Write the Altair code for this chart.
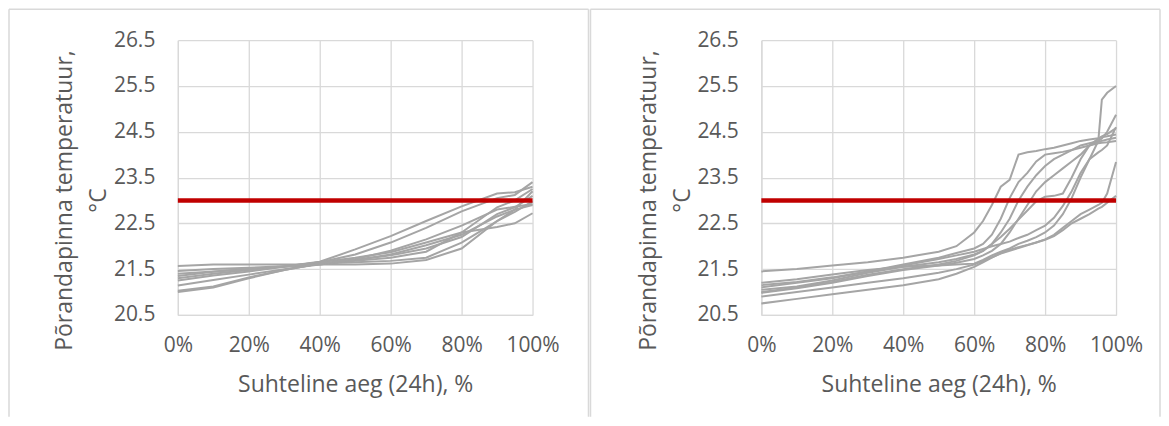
import altair as alt
import pandas as pd

# ---------------- data ----------------
Y_TICKS = [20.5, 21.5, 22.5, 23.5, 24.5, 25.5, 26.5]
X_TICKS = [0, 0.2, 0.4, 0.6, 0.8, 1.0]
THRESHOLD = 23.0

# left panel, relative time in %
LX = [0, 10, 20, 30, 40, 50, 60, 70, 80, 90, 95, 100]
L1 = [21.30, 21.40, 21.48, 21.56, 21.66, 21.93, 22.22, 22.55, 22.87, 23.15, 23.18, 23.30]
L2 = [21.40, 21.45, 21.50, 21.56, 21.65, 21.82, 22.08, 22.40, 22.76, 23.05, 23.12, 23.40]
L3 = [21.57, 21.60, 21.60, 21.60, 21.60, 21.60, 21.62, 21.70, 21.95, 22.55, 22.80, 23.20]
L4 = [21.00, 21.10, 21.30, 21.48, 21.62, 21.65, 21.68, 21.75, 22.08, 22.55, 22.75, 22.98]
L5 = [21.25, 21.36, 21.45, 21.55, 21.65, 21.75, 21.87, 22.08, 22.30, 22.42, 22.50, 22.72]
L6 = [21.35, 21.44, 21.50, 21.55, 21.60, 21.70, 21.82, 22.02, 22.25, 22.65, 22.80, 22.90]
L7 = [21.14, 21.26, 21.38, 21.50, 21.60, 21.70, 21.80, 21.95, 22.20, 22.70, 22.85, 23.10]
L8 = [21.03, 21.12, 21.32, 21.48, 21.62, 21.68, 21.75, 21.88, 22.30, 22.85, 23.00, 23.25]
L9 = [21.46, 21.50, 21.53, 21.56, 21.62, 21.72, 21.90, 22.15, 22.45, 22.80, 22.86, 22.92]

# right panel, relative time in %
RX = [0, 10, 20, 30, 40, 50, 55, 60, 62.5, 65, 67.5, 70, 72.5, 75, 77.5, 80,
      82.5, 85, 87.5, 90, 92.5, 95, 96, 97.5, 100]
R1 = [21.45, 21.50, 21.58, 21.65, 21.75, 21.88, 22.00, 22.30, 22.55, 22.90, 23.30, 23.45, 24.00,
      24.05, 24.08, 24.12, 24.15, 24.20, 24.25, 24.30, 24.33, 24.36, 24.38, 24.40, 24.44]
R2 = [21.10, 21.20, 21.30, 21.45, 21.60, 21.75, 21.85, 21.95, 22.05, 22.25, 22.60, 23.05, 23.40,
      23.60, 23.85, 24.00, 24.03, 24.06, 24.10, 24.15, 24.20, 24.28, 24.30, 24.33, 24.37]
R3 = [21.05, 21.12, 21.25, 21.42, 21.55, 21.65, 21.72, 21.82, 21.90, 22.05, 22.30, 22.60, 23.00,
      23.30, 23.55, 23.75, 23.90, 24.00, 24.10, 24.20, 24.25, 24.30, 24.35, 24.50, 24.87]
R4 = [20.98, 21.08, 21.20, 21.35, 21.48, 21.58, 21.64, 21.72, 21.80, 21.90, 22.05, 22.30, 22.60,
      22.90, 23.20, 23.40, 23.55, 23.70, 23.85, 24.00, 24.20, 24.35, 24.40, 24.45, 24.58]
R5 = [21.20, 21.28, 21.38, 21.48, 21.55, 21.58, 21.60, 21.62, 21.70, 21.80, 21.88, 21.95, 22.05,
      22.12, 22.20, 22.30, 22.45, 22.70, 23.05, 23.50, 23.90, 24.30, 25.20, 25.35, 25.50]
R6 = [20.75, 20.85, 20.95, 21.05, 21.15, 21.28, 21.40, 21.55, 21.65, 21.75, 21.85, 21.92, 21.98,
      22.03, 22.08, 22.15, 22.25, 22.40, 22.55, 22.70, 22.80, 22.90, 22.95, 23.15, 23.84]
R7 = [21.00, 21.10, 21.22, 21.38, 21.50, 21.60, 21.68, 21.80, 21.90, 22.05, 22.20, 22.38, 22.58,
      22.78, 22.98, 23.08, 23.10, 23.15, 23.50, 23.90, 24.20, 24.25, 24.26, 24.27, 24.30]
R8 = [20.90, 21.00, 21.10, 21.20, 21.30, 21.42, 21.50, 21.60, 21.68, 21.76, 21.84, 21.90, 21.96,
      22.02, 22.08, 22.14, 22.22, 22.35, 22.50, 22.60, 22.70, 22.82, 22.86, 22.95, 23.10]
R9 = [21.15, 21.22, 21.32, 21.45, 21.58, 21.72, 21.80, 21.88, 21.94, 22.00, 22.05, 22.10, 22.18,
      22.25, 22.35, 22.45, 22.62, 22.88, 23.20, 23.60, 23.90, 24.05, 24.10, 24.20, 24.60]

LEFT = {"L1": L1, "L2": L2, "L3": L3, "L4": L4, "L5": L5, "L6": L6, "L7": L7, "L8": L8, "L9": L9}
RIGHT = {"R1": R1, "R2": R2, "R3": R3, "R4": R4, "R5": R5, "R6": R6, "R7": R7, "R8": R8, "R9": R9}

X_TITLE = "Suhteline aeg (24h), %"
Y_TITLE = ["Põrandapinna temperatuur,", "°C"]

FONT = "Open Sans"
TEXT = "#595959"
GRID = "#D9D9D9"
W, H = 355, 275


def long_df(xs, series):
    rows = []
    for name, vals in series.items():
        for x, v in zip(xs, vals):
            rows.append({"s": name, "x": x / 100.0, "y": v})
    return pd.DataFrame(rows)


def border(x0, x1, y0, y1):
    one = alt.Chart(pd.DataFrame({"k": [0]}))
    sty = dict(color=GRID, strokeWidth=1.5)
    top = one.mark_rule(**sty).encode(x=alt.value(x0), x2=alt.value(x1), y=alt.value(y0))
    lft = one.mark_rule(**sty).encode(x=alt.value(x0), y=alt.value(y0), y2=alt.value(y1))
    rgt = one.mark_rule(**sty).encode(x=alt.value(x1), y=alt.value(y0), y2=alt.value(y1))
    return [top, lft, rgt]


def panel(xs, series, bx0, bx1):
    df = long_df(xs, series)
    xenc = alt.X("x:Q",
                 scale=alt.Scale(domain=[0, 1], nice=False),
                 axis=alt.Axis(values=X_TICKS, format=".0%", title=X_TITLE,
                               labelPadding=20, titlePadding=18,
                               labelOverlap=False, labelFlush=False))
    yenc = alt.Y("y:Q",
                 scale=alt.Scale(domain=[20.5, 26.5], nice=False, zero=False),
                 axis=alt.Axis(values=Y_TICKS, format=".1f", title=Y_TITLE,
                               labelPadding=23, titleX=-113, titleY=160,
                               titleBaseline="middle", titleLineHeight=34))
    lines = alt.Chart(df).mark_line(color="#A5A5A5", strokeWidth=2).encode(
        x=xenc, y=yenc, detail="s:N")
    red = alt.Chart(pd.DataFrame({"x": [0, 1], "y": [THRESHOLD, THRESHOLD]})).mark_line(
        color="#C00000", strokeWidth=4.5).encode(x="x:Q", y="y:Q")
    layers = border(bx0, bx1, -31, 377) + [lines, red]
    return alt.layer(*layers).properties(width=W, height=H)


left = panel(LX, LEFT, -169, 411)
right = panel(RX, RIGHT, -171, 399)

chart = alt.hconcat(left, right, spacing=229, bounds="flush").properties(
    padding=0, background="white"
).configure_view(strokeWidth=0).configure_axis(
    grid=True, gridColor=GRID, gridWidth=1.3,
    domainColor=GRID, domainWidth=1.3, ticks=False,
    labelFont=FONT, titleFont=FONT, labelColor=TEXT, titleColor=TEXT,
    labelFontSize=21, titleFontSize=23, titleFontWeight="normal",
)

chart.save("out.html", embed_options={"renderer": "svg", "actions": False})
